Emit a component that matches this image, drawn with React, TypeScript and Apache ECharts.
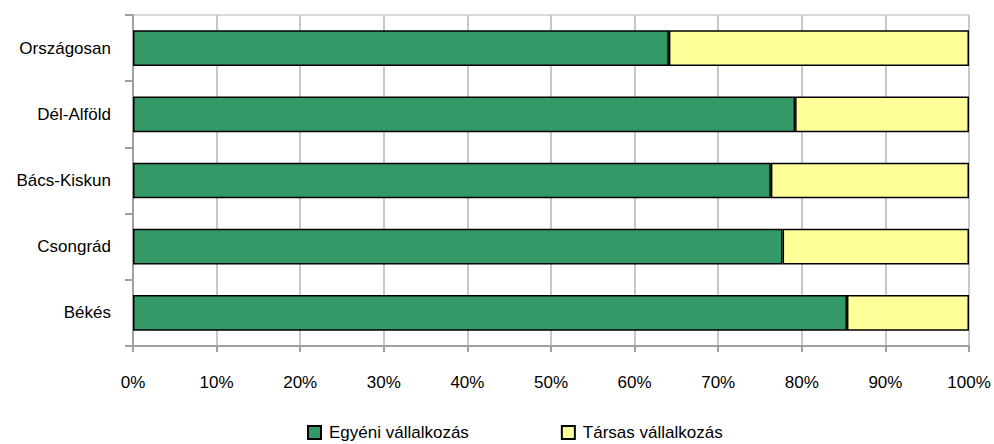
import React, { useEffect, useRef } from "react";
import * as echarts from "echarts";

const categories = ["Országosan", "Dél-Alföld", "Bács-Kiskun", "Csongrád", "Békés"];
const egyeni = [64.1, 79.2, 76.3, 77.7, 85.4];
const tarsas = [35.9, 20.8, 23.7, 22.3, 14.6];
const seriesNames = ["Egyéni vállalkozás", "Társas vállalkozás"];
const xTicks = [0, 10, 20, 30, 40, 50, 60, 70, 80, 90, 100];

const FONT = "'Liberation Sans', Arial, sans-serif";
const FS = 17;

export default function App() {
  const ref = useRef<HTMLDivElement>(null);
  useEffect(() => {
    if (!ref.current) return;
    const chart = echarts.init(ref.current, undefined, { renderer: "svg" });
    chart.setOption({
      animation: false,
      backgroundColor: "#ffffff",
      textStyle: { fontFamily: FONT, color: "#000" },
      grid: {
        left: 133,
        right: 25,
        top: 15,
        bottom: 98,
        show: true,
        borderColor: "#b4b4b4",
        borderWidth: 1,
      },
      legend: {
        left: 302,
        top: 419,
        itemWidth: 13,
        itemHeight: 13,
        itemGap: 92,
        icon: "rect",
        textStyle: { fontFamily: FONT, fontSize: FS, color: "#000", padding: [0, 0, 0, 3] },
        data: seriesNames,
      },
      xAxis: {
        type: "value",
        min: xTicks[0],
        max: xTicks[xTicks.length - 1],
        interval: 10,
        axisLine: { show: true, lineStyle: { color: "#a0a0a0", width: 2 } },
        axisTick: { show: true, length: 6, lineStyle: { color: "#a0a0a0", width: 2 } },
        splitLine: { show: true, lineStyle: { color: "#c8c8c8", width: 2 } },
        axisLabel: {
          formatter: (v: number) => v + "%",
          fontFamily: FONT,
          fontSize: FS,
          color: "#000",
          margin: 28,
        },
      },
      yAxis: {
        type: "category",
        inverse: true,
        data: categories,
        axisLine: { show: true, lineStyle: { color: "#a0a0a0", width: 2 } },
        axisTick: { show: true, length: 8, lineStyle: { color: "#a0a0a0", width: 2 } },
        axisLabel: { fontFamily: FONT, fontSize: FS, color: "#000", margin: 22 },
        splitLine: { show: false },
      },
      series: [
        {
          name: seriesNames[0],
          type: "bar",
          stack: "total",
          barWidth: "54%",
          data: egyeni,
          itemStyle: { color: "#339966", borderColor: "#000", borderWidth: 1.5 },
        },
        {
          name: seriesNames[1],
          type: "bar",
          stack: "total",
          barWidth: "54%",
          data: tarsas,
          itemStyle: { color: "#ffff99", borderColor: "#000", borderWidth: 1.5 },
        },
      ],
    });
    return () => chart.dispose();
  }, []);
  return (
    <div
      ref={ref}
      style={{ position: "absolute", left: 0, top: 0, width: 994, height: 444 }}
    />
  );
}
